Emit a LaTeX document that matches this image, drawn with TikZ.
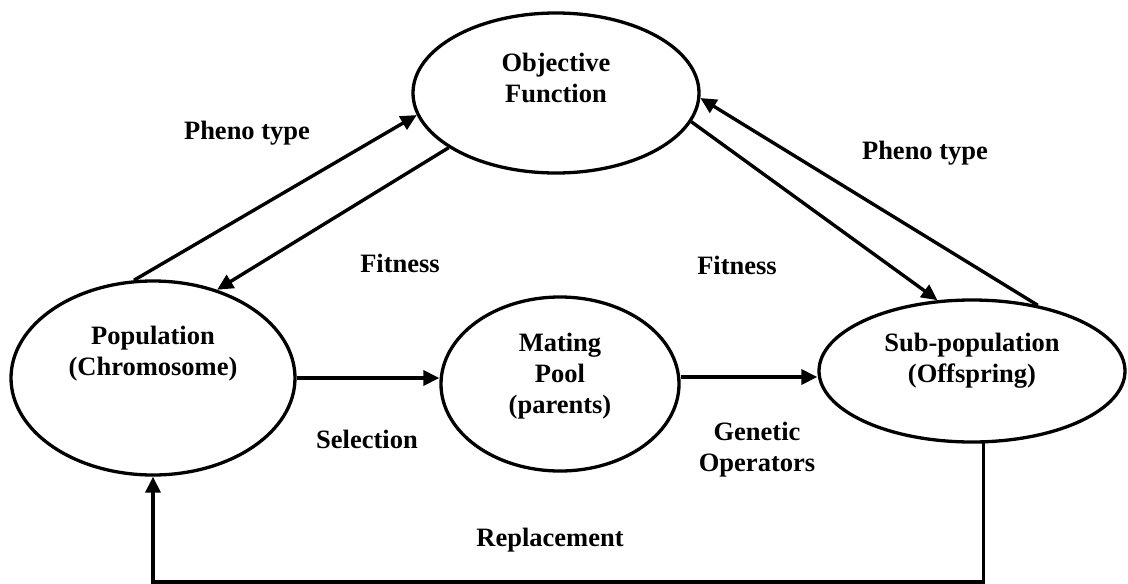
\documentclass[tikz,border=0pt]{standalone}
\usepackage{fontspec}
\setmainfont{Liberation Serif}
\usetikzlibrary{arrows.meta,shapes.geometric}
\begin{document}
\begin{tikzpicture}[x=1pt,y=-1pt,
  every node/.style={font=\bfseries\fontsize{26.5}{31}\selectfont, align=center, inner sep=0pt},
  ell/.style={draw, ellipse, line width=3.3pt},
  arr/.style={line width=3.4pt, -{Triangle[length=16pt,width=15pt]}}]
\useasboundingbox (0,0) rectangle (1128,584);
% ellipses
\node[ell, minimum width=286pt, minimum height=160pt] (obj) at (556,93) {};
\node[ell, minimum width=284pt, minimum height=194pt] (pop) at (153,378) {};
\node[ell, minimum width=238pt, minimum height=174pt] (mat) at (560,384) {};
\node[ell, minimum width=306pt, minimum height=142pt] (sub) at (972,371) {};
% ellipse texts
\node (objt) at ([yshift=15pt]obj.center) {Objective\\Function};
\node (popt) at ([yshift=24pt]pop.center) {Population\\(Chromosome)};
\node (matt) at ([yshift=8pt]mat.center) {Mating\\Pool\\(parents)};
\node (subt) at ([yshift=10pt]sub.center) {Sub-population\\(Offspring)};
% connectors
\draw[arr] (pop.101.8) -- (obj.189);
\draw[arr] (obj.207.4) -- (pop.54.8);
\draw[arr] (obj.-12.2) -- (sub.116);
\draw[arr] (sub.45.9) -- (obj.-2.4);
\draw[arr] (pop.east) -- (pop.east -| mat.west);
\coordinate (lvl) at (0,377);
\draw[arr] (mat.east |- lvl) -- (sub.west |- lvl);
\coordinate (bot) at (0,582);
\draw[arr] (sub.-81.2) -- (sub.-81.2 |- bot) -| (pop.south);
% labels
\node (pt1) at (247,133) {Pheno type};
\node (pt2) at (925,153) {Pheno type};
\node (fit1) at (400,263) {Fitness};
\node (fit2) at (737,265) {Fitness};
\node (sel) at (367,439) {Selection};
\node (gen) at (757,450) {Genetic\\Operators};
\node (rep) at (550,540) {Replacement};
\end{tikzpicture}
\end{document}
